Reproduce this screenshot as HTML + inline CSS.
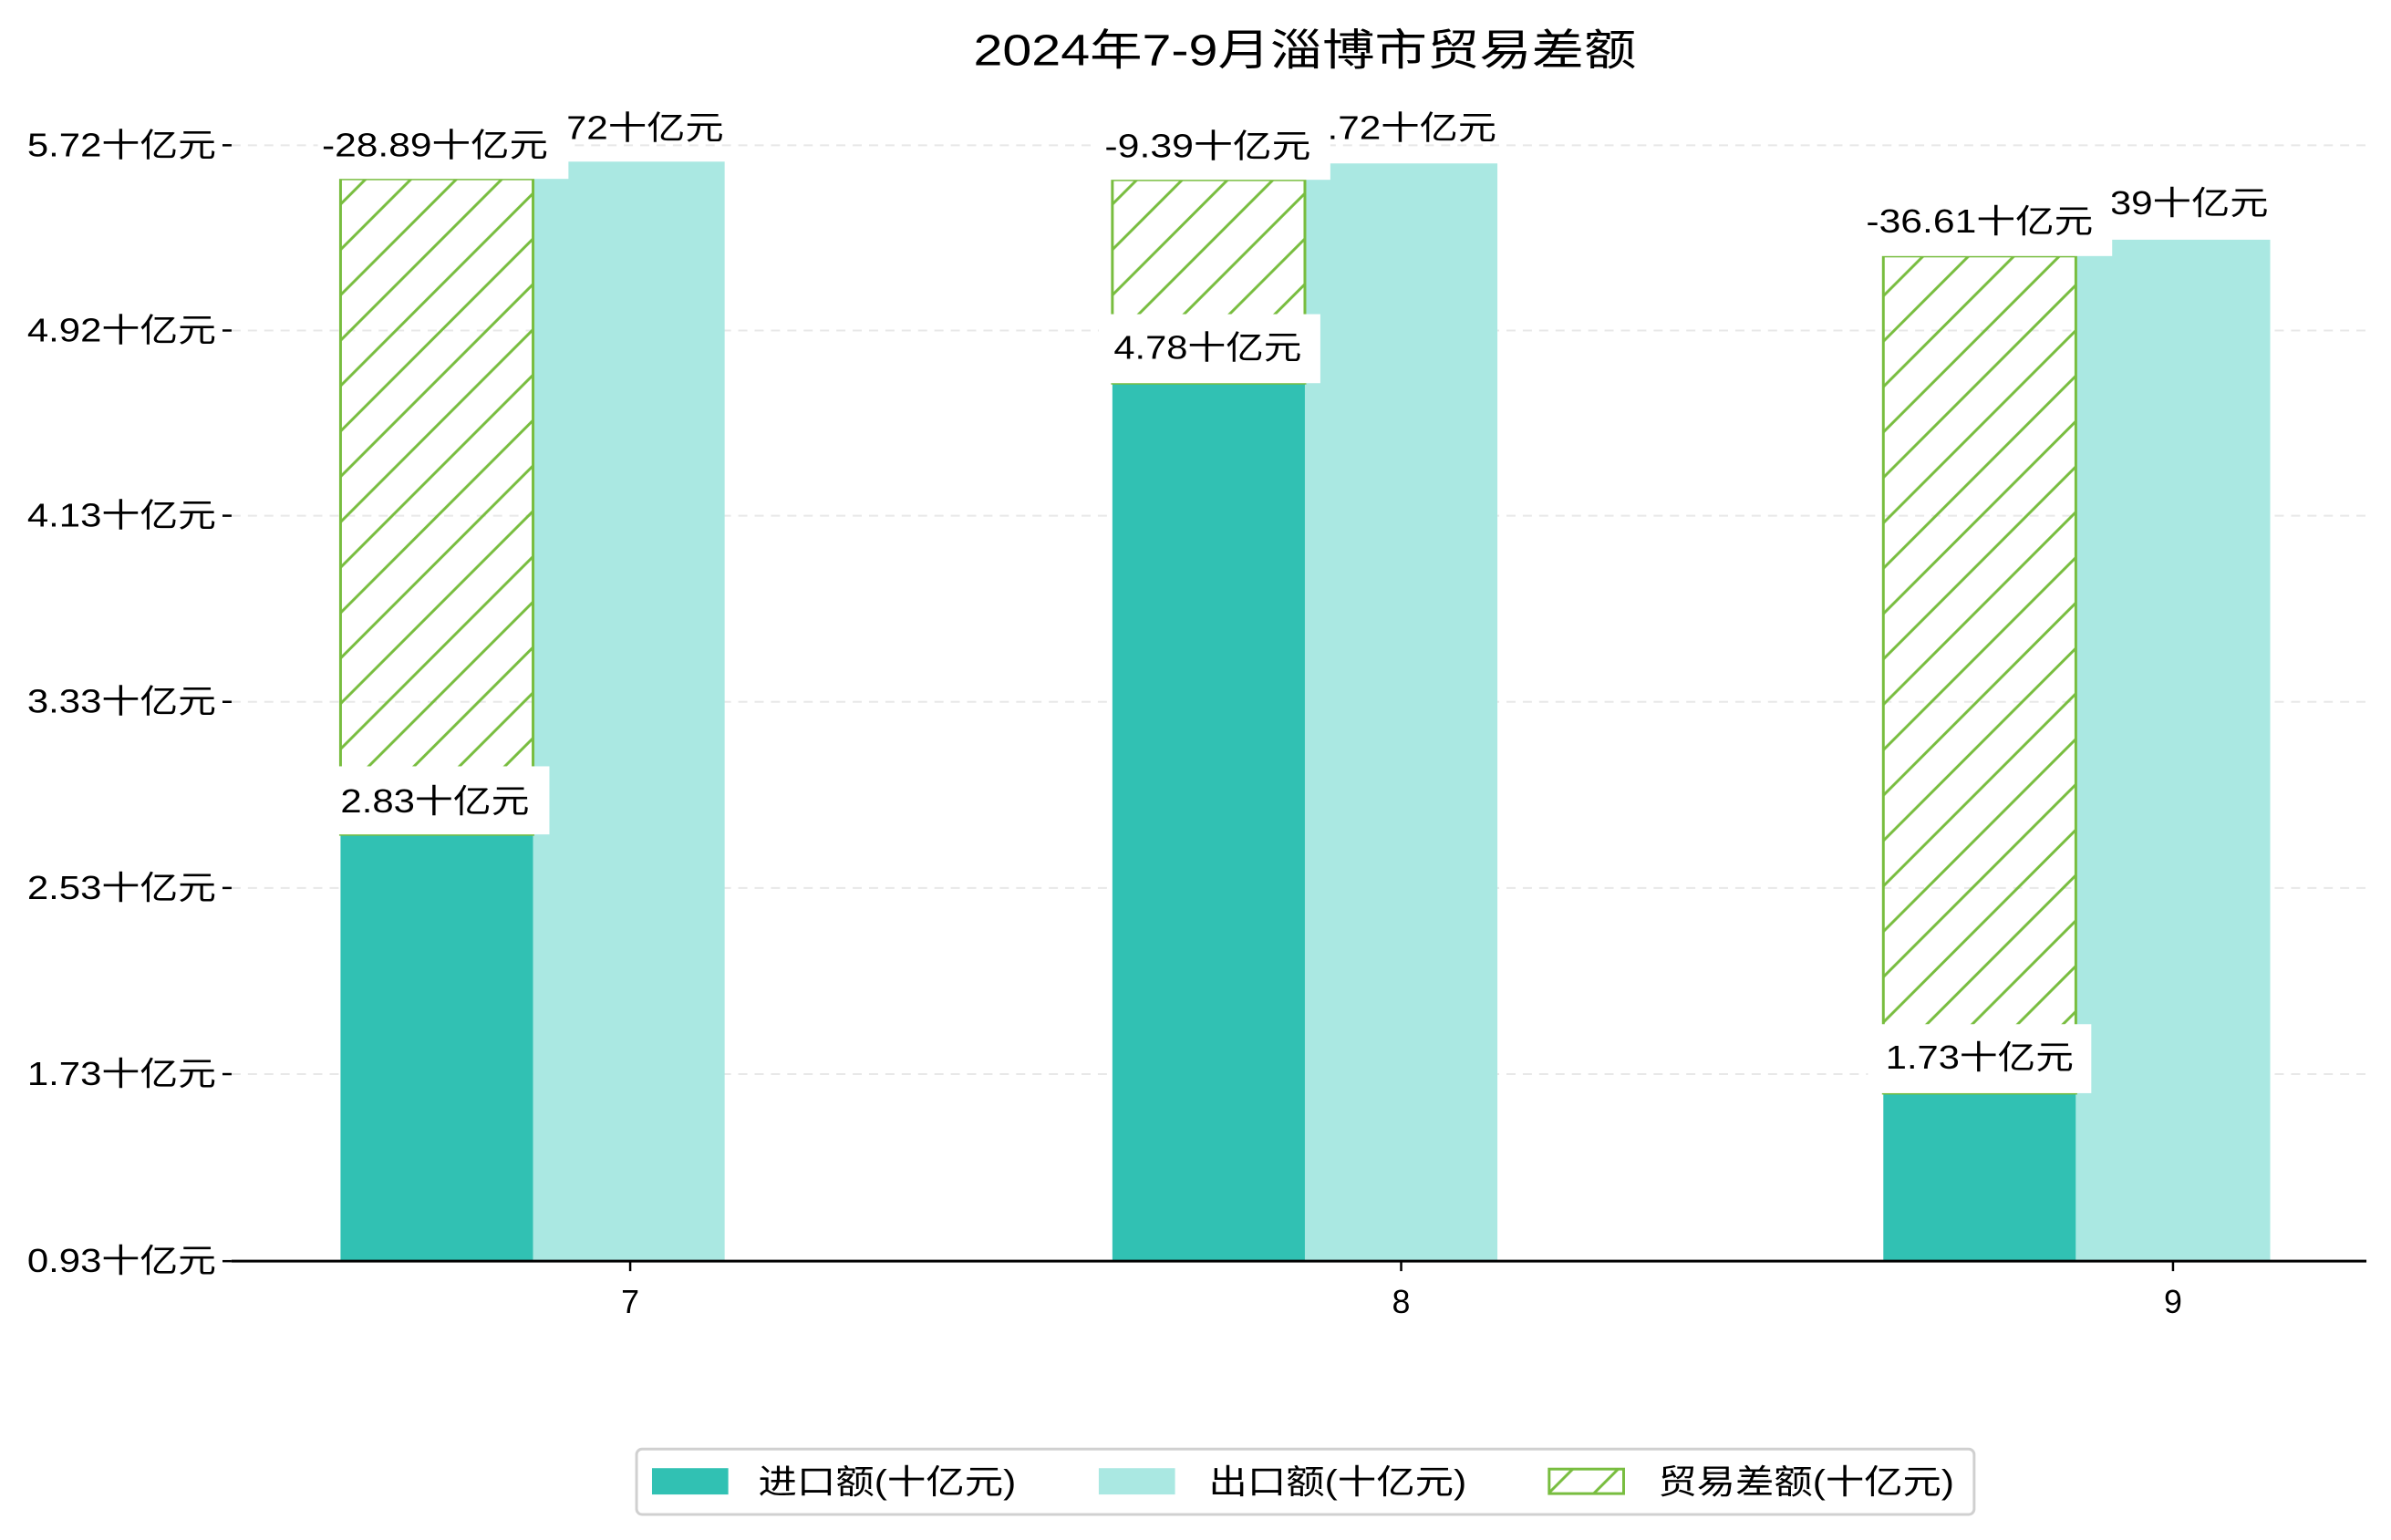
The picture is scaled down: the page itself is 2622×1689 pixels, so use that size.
<!DOCTYPE html>
<html><head><meta charset="utf-8"><style>html,body{margin:0;padding:0;background:#fff}svg{display:block}text{font-family:"Liberation Sans","Noto Sans CJK SC",sans-serif;fill:#000}</style></head>
<body>
<svg width="2622" height="1689" viewBox="0 0 2622 1689" xmlns="http://www.w3.org/2000/svg">
<defs>
<pattern id="h" patternUnits="userSpaceOnUse" width="50" height="50">
<path d="M-10,60 L60,-10 M-60,60 L60,-60 M-10,110 L110,-10" stroke="#78bd3f" stroke-width="3"/>
</pattern>
</defs>
<rect width="2622" height="1689" fill="#fff"/>
<g transform="scale(0.9958)">
<text x="1437" y="72" font-size="48" text-anchor="middle" textLength="730" lengthAdjust="spacingAndGlyphs">2024年7-9月淄博市贸易差额</text>
<g stroke="#e8e8e8" stroke-width="2" stroke-dasharray="10,8">
<line x1="255" y1="160" x2="2606" y2="160"/><line x1="255" y1="364" x2="2606" y2="364"/><line x1="255" y1="568" x2="2606" y2="568"/><line x1="255" y1="773" x2="2606" y2="773"/><line x1="255" y1="978" x2="2606" y2="978"/><line x1="255" y1="1183" x2="2606" y2="1183"/>
</g>
<g font-size="36" text-anchor="end">
<text x="238" y="172" textLength="208" lengthAdjust="spacingAndGlyphs">5.72十亿元</text>
<text x="238" y="376" textLength="208" lengthAdjust="spacingAndGlyphs">4.92十亿元</text>
<text x="238" y="580" textLength="208" lengthAdjust="spacingAndGlyphs">4.13十亿元</text>
<text x="238" y="785" textLength="208" lengthAdjust="spacingAndGlyphs">3.33十亿元</text>
<text x="238" y="990" textLength="208" lengthAdjust="spacingAndGlyphs">2.53十亿元</text>
<text x="238" y="1195" textLength="208" lengthAdjust="spacingAndGlyphs">1.73十亿元</text>
<text x="238" y="1401" textLength="208" lengthAdjust="spacingAndGlyphs">0.93十亿元</text>
</g>
<g stroke="#000" stroke-width="2.5">
<line x1="245" y1="160" x2="255" y2="160"/><line x1="245" y1="364" x2="255" y2="364"/><line x1="245" y1="568" x2="255" y2="568"/><line x1="245" y1="773" x2="255" y2="773"/><line x1="245" y1="978" x2="255" y2="978"/><line x1="245" y1="1183" x2="255" y2="1183"/><line x1="245" y1="1389" x2="255" y2="1389"/>
<line x1="694" y1="1389" x2="694" y2="1400"/><line x1="1543" y1="1389" x2="1543" y2="1400"/><line x1="2393" y1="1389" x2="2393" y2="1400"/>
</g>
<rect x="375" y="919" width="212" height="470" fill="#31c1b3"/>
<rect x="1225" y="422" width="212" height="967" fill="#31c1b3"/>
<rect x="2074" y="1204" width="212" height="185" fill="#31c1b3"/>
<rect x="587" y="178" width="211" height="1211" fill="#aae8e2"/>
<rect x="1437" y="180" width="212" height="1209" fill="#aae8e2"/>
<rect x="2286" y="264" width="214" height="1125" fill="#aae8e2"/>
<g stroke="#78bd3f" stroke-width="3" fill="url(#h)">
<rect x="375" y="197" width="212" height="722"/>
<rect x="1225" y="198" width="212" height="224"/>
<rect x="2074" y="282" width="212" height="922"/>
</g>
<g font-size="36" text-anchor="middle">
<text x="692" y="153" textLength="210" lengthAdjust="spacingAndGlyphs">5.72十亿元</text>
<text x="1543" y="153" textLength="210" lengthAdjust="spacingAndGlyphs">5.72十亿元</text>
<text x="2393" y="236" textLength="210" lengthAdjust="spacingAndGlyphs">5.39十亿元</text>
</g>
<g fill="#fff">
<rect x="350" y="110" width="276" height="87"/>
<rect x="1204" y="110" width="261" height="88"/>
<rect x="2041" y="195" width="285" height="87"/>
<rect x="358" y="844" width="247" height="75"/>
<rect x="1210" y="346" width="244" height="76"/>
<rect x="2057" y="1128" width="246" height="76"/>
</g>
<g font-size="36" text-anchor="middle">
<text x="479" y="172" textLength="249" lengthAdjust="spacingAndGlyphs">-28.89十亿元</text>
<text x="1330" y="173" textLength="227" lengthAdjust="spacingAndGlyphs">-9.39十亿元</text>
<text x="2180" y="256" textLength="250" lengthAdjust="spacingAndGlyphs">-36.61十亿元</text>
<text x="479" y="895" textLength="208" lengthAdjust="spacingAndGlyphs">2.83十亿元</text>
<text x="1330" y="395" textLength="207" lengthAdjust="spacingAndGlyphs">4.78十亿元</text>
<text x="2180" y="1177" textLength="207" lengthAdjust="spacingAndGlyphs">1.73十亿元</text>
<text x="694" y="1446">7</text>
<text x="1543" y="1446">8</text>
<text x="2393" y="1446">9</text>
</g>
<line x1="255" y1="1389" x2="2606" y2="1389" stroke="#000" stroke-width="3"/>
<rect x="701" y="1596" width="1473" height="72" rx="6" fill="#fff" stroke="#d0d0d0" stroke-width="3"/>
<rect x="718" y="1617" width="84" height="29" fill="#31c1b3"/>
<rect x="1210" y="1617" width="84" height="29" fill="#aae8e2"/>
<rect x="1706" y="1618" width="82" height="27" fill="url(#h)" stroke="#78bd3f" stroke-width="3"/>
<g font-size="37">
<text x="835" y="1645" textLength="284" lengthAdjust="spacingAndGlyphs">进口额(十亿元)</text>
<text x="1331" y="1645" textLength="284" lengthAdjust="spacingAndGlyphs">出口额(十亿元)</text>
<text x="1826" y="1645" textLength="326" lengthAdjust="spacingAndGlyphs">贸易差额(十亿元)</text>
</g>
</g>
</svg>
</body></html>
